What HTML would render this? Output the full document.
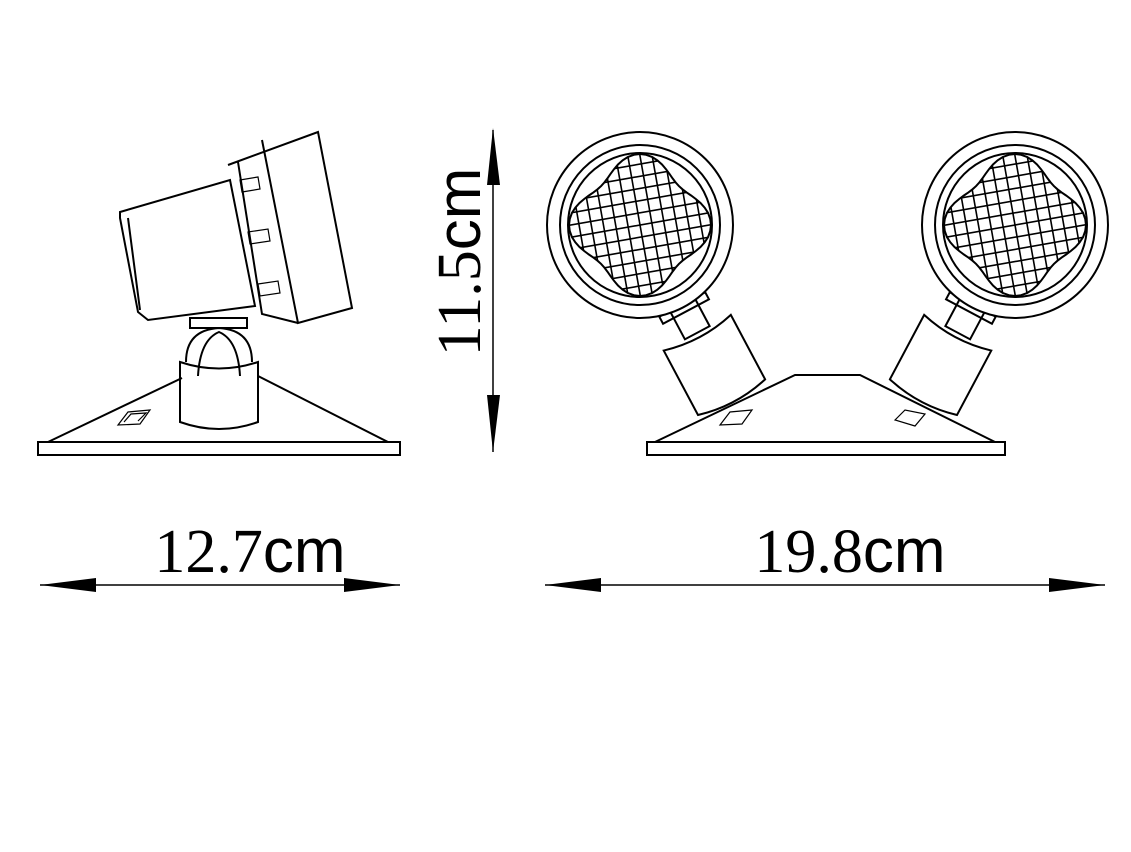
<!DOCTYPE html>
<html><head><meta charset="utf-8"><style>
html,body{margin:0;padding:0;background:#fff;}
svg{display:block;}
.l{fill:none;stroke:#000;stroke-width:2;}
.t{stroke:#000;stroke-width:1.2;fill:none;}
.g{stroke:#000;stroke-width:1.6;fill:none;}
</style></head><body>
<svg width="1131" height="852" viewBox="0 0 1131 852">
<g>
 <rect class="l" x="38" y="442" width="362" height="13"/>
 <path class="l" d="M48 442 L182 378 M258 376 L388 442"/>
 <path class="t" d="M118 425 L128 412 L150 410 L140 424 Z M124 422 L131 414 L146 413 L138 421"/>
 <path class="l" d="M180 362 L180 422 Q219 436 258 422 L258 362 Q219 375 180 362 Z"/>
 <path class="l" d="M186 362 Q186 330 219 328 Q252 330 252 362 M198 376 Q200 340 219 332 Q238 340 240 376"/>
 <rect class="l" x="190" y="318" width="57" height="10"/>
 <path class="l" d="M120 212 L230 180 L255 306 L148 320 L138 312 L120 218 Z M128 218 L140 310"/>
 <path class="l" d="M228 165 L318 132 L352 308 L298 323 L262 140 M238 162 L262 314 L298 323"/>
 <path class="t" d="M240 180 L258 177 L260 189 L242 192 Z M248 232 L268 229 L270 241 L250 244 Z M258 284 L278 281 L280 293 L260 296 Z"/>
</g>
<g>
 <line x1="493" y1="130" x2="493" y2="452" stroke="#000" stroke-width="1.5"/>
 <polygon points="493,128 487,185 500,185" fill="#000"/>
 <polygon points="493,452 487,395 500,395" fill="#000"/>
 <text transform="translate(480,262) rotate(-90)" text-anchor="middle" font-size="62"><tspan font-family="Liberation Serif, serif">11.5</tspan><tspan font-family="Liberation Sans, sans-serif">cm</tspan></text>
</g>
<g>
 <text x="250" y="572" text-anchor="middle" font-size="62"><tspan font-family="Liberation Serif, serif">12.7</tspan><tspan font-family="Liberation Sans, sans-serif">cm</tspan></text>
 <line x1="40" y1="585" x2="400" y2="585" stroke="#000" stroke-width="1.5"/>
 <polygon points="40,585 96,578 96,592" fill="#000"/>
 <polygon points="400,585 344,578 344,592" fill="#000"/>
</g>
<g>
 <text x="850" y="572" text-anchor="middle" font-size="62"><tspan font-family="Liberation Serif, serif">19.8</tspan><tspan font-family="Liberation Sans, sans-serif">cm</tspan></text>
 <line x1="545" y1="585" x2="1105" y2="585" stroke="#000" stroke-width="1.5"/>
 <polygon points="545,585 601,578 601,592" fill="#000"/>
 <polygon points="1105,585 1049,578 1049,592" fill="#000"/>
</g>
<g>
 <rect class="l" x="647" y="442" width="358" height="13"/>
 <path class="l" d="M655 442 L795 375 L860 375 L995 442"/>
 <path class="t" d="M720 425 L730 412 L752 410 L742 424 Z M895 420 L905 410 L925 414 L915 426 Z"/>
 <g id="lampL"></g>
 <g id="lampR"></g>
</g>
</svg>
<script>
const NS="http://www.w3.org/2000/svg";
function mk(tag,attrs,parent){const e=document.createElementNS(NS,tag);for(const k in attrs)e.setAttribute(k,attrs[k]);parent.appendChild(e);return e;}
function lamp(id,cx,cy,ang,rot){
 const g=document.getElementById(id);
 const arm=mk('g',{transform:`rotate(${ang} ${cx} ${cy})`},g);
 
 mk('rect',{class:'l',x:cx-14,y:cy+92,width:28,height:30},arm);
 mk('rect',{class:'l',x:cx-26,y:cy+90,width:52,height:8},arm);
 mk('path',{class:'l',d:`M${cx-38} ${cy+122} L${cx-38} ${cy+195} Q${cx} ${cy+205} ${cx+38} ${cy+195} L${cx+38} ${cy+122} Q${cx} ${cy+132} ${cx-38} ${cy+122} Z`},arm);
 [93,80,72].forEach(r=>mk('circle',{class:'l',cx,cy,r,style:'fill:#fff'},g));
 let d='';
 for(let i=0;i<=72;i++){const t=i/72*Math.PI*2;const r=63+8*Math.cos(4*t);d+=(i?'L':'M')+(cx+r*Math.cos(t+rot)).toFixed(1)+' '+(cy+r*Math.sin(t+rot)).toFixed(1);}
 const cp=mk('clipPath',{id:id+'c'},g);mk('path',{d:d+'Z'},cp);
 const grid=mk('g',{'clip-path':`url(#${id}c)`},g);
 
 for(let x=-84;x<=84;x+=12){mk('line',{class:'g',x1:cx+x,y1:cy-90,x2:cx+x,y2:cy+90,transform:`rotate(-10 ${cx} ${cy})`},grid);mk('line',{class:'g',x1:cx-90,y1:cy+x,x2:cx+90,y2:cy+x,transform:`rotate(-10 ${cx} ${cy})`},grid);}
 mk('path',{class:'l',d:d+'Z'},g);
}
lamp('lampL',640,225,-28,0.0);
lamp('lampR',1015,225,28,0.0);
</script>
</body></html>
